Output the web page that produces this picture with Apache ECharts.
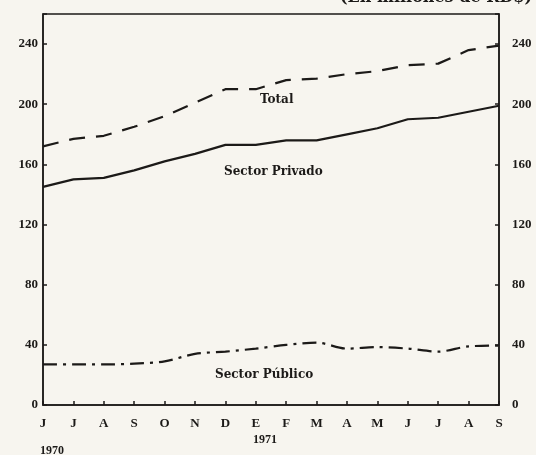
<!DOCTYPE html>
<html>
<head>
<meta charset="utf-8">
<script src="https://cdn.jsdelivr.net/npm/echarts@6/dist/echarts.min.js"></script>
<style>
  html, body { margin: 0; padding: 0; background: #f7f5ef; }
  #main { width: 536px; height: 455px; }
</style>
</head>
<body>
<div id="main"></div>
<script>
// meses jun 1970 - sep 1971
const months = ['J', 'J', 'A', 'S', 'O', 'N', 'D', 'E', 'F', 'M', 'A', 'M', 'J', 'J', 'A', 'S'];
const years = ['1970', '1971'];
// en millones de RD$
const total = [172, 177, 179, 185, 192, 201, 210, 210, 216, 217, 220, 222, 226, 227, 236, 239];
const privado = [145, 150, 151, 156, 162, 167, 173, 173, 176, 176, 180, 184, 190, 191, 195, 199];
const publico = [27, 27, 27, 27.5, 29, 34, 35.5, 37.5, 40, 41.5, 37.5, 38.5, 37.5, 35.5, 39, 39.5];
const seriesNames = ['Total', 'Sector Privado', 'Sector Público'];

const ink = '#1c1a18';
const serif = '"Liberation Serif", "DejaVu Serif", serif';
const wide = '"DejaVu Serif", serif';

const chart = echarts.init(document.getElementById('main'), null, { renderer: 'canvas' });

const yLabel = {
  color: ink,
  fontFamily: serif,
  fontWeight: 'bold',
  fontSize: 13,
  formatter: function (v) { return v % 40 === 0 ? v : ''; }
};

const option = {
  backgroundColor: '#f7f5ef',
  animation: false,
  grid: {
    left: 43,
    right: 37,
    top: 14,
    bottom: 50,
    show: true,
    borderColor: ink,
    borderWidth: 1.5
  },
  xAxis: {
    type: 'category',
    data: months,
    boundaryGap: false,
    axisLine: { lineStyle: { color: ink, width: 1.5 } },
    axisTick: { inside: true, length: 4, lineStyle: { color: ink, width: 1.5 } },
    axisLabel: {
      color: ink,
      fontFamily: serif,
      fontWeight: 'bold',
      fontSize: 13,
      margin: 12,
      interval: 0
    },
    splitLine: { show: false }
  },
  yAxis: [
    {
      type: 'value',
      min: 0,
      max: 260,
      interval: 40,
      position: 'left',
      axisLine: { show: true, lineStyle: { color: ink, width: 1.5 } },
      axisTick: { show: true, inside: true, length: 4, lineStyle: { color: ink, width: 1.5 } },
      axisLabel: Object.assign({ margin: 5 }, yLabel),
      splitLine: { show: false }
    },
    {
      type: 'value',
      min: 0,
      max: 260,
      interval: 40,
      position: 'right',
      axisLine: { show: true, lineStyle: { color: ink, width: 1.5 } },
      axisTick: { show: true, inside: true, length: 4, lineStyle: { color: ink, width: 1.5 } },
      axisLabel: Object.assign({ margin: 13 }, yLabel),
      splitLine: { show: false }
    }
  ],
  series: [
    {
      name: seriesNames[0],
      type: 'line',
      data: total,
      symbol: 'none',
      lineStyle: { color: ink, width: 2.2, type: [16, 11] }
    },
    {
      name: seriesNames[1],
      type: 'line',
      data: privado,
      symbol: 'none',
      lineStyle: { color: ink, width: 2.2, type: 'solid' }
    },
    {
      name: seriesNames[2],
      type: 'line',
      data: publico,
      symbol: 'none',
      smooth: 0.3,
      lineStyle: { color: ink, width: 2.2, type: [14, 6, 3, 6] }
    }
  ],
  graphic: [
    // etiquetas de las series
    { type: 'text', left: 260, top: 94, style: { text: seriesNames[0], fill: ink, font: 'bold 12px ' + wide } },
    { type: 'text', left: 224, top: 166, style: { text: seriesNames[1], fill: ink, font: 'bold 12px ' + wide } },
    { type: 'text', left: 215, top: 369, style: { text: seriesNames[2], fill: ink, font: 'bold 12px ' + wide } },
    // años
    { type: 'text', left: 40, top: 445, style: { text: years[0], fill: ink, font: 'bold 12px ' + serif } },
    { type: 'text', left: 253, top: 434, style: { text: years[1], fill: ink, font: 'bold 12px ' + serif } },
    // subtitulo cortado arriba
    { type: 'text', right: 4, top: -10, style: { text: '(En millones de RD$)', fill: ink, font: 'bold 16px ' + wide } }
  ]
};

chart.setOption(option);
</script>
</body>
</html>
